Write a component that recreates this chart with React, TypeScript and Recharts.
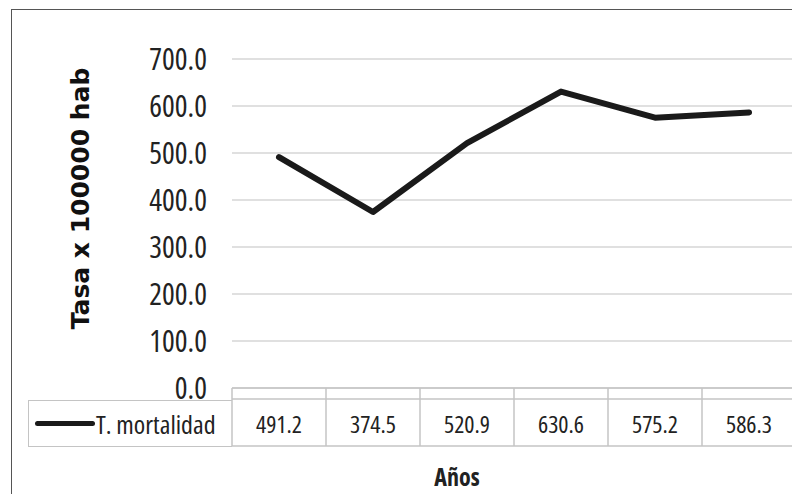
import React from 'react';
import { LineChart, Line, XAxis, YAxis, CartesianGrid, Legend } from 'recharts';

const seriesName = 'T. mortalidad';
const values = [491.2, 374.5, 520.9, 630.6, 575.2, 586.3];
const yTicks = [0, 100, 200, 300, 400, 500, 600, 700];
const yAxisTitle = 'Tasa x 100000 hab';
const xAxisTitle = 'Años';

const narrow = "'Open Sans', sans-serif";
const stretch = 'condensed';
const lineColor = '#1a1a1a';
const tableLine = '#c4c4c4';

const data = values.map((v, i) => ({ idx: i, valor: v }));

// each category tick draws its own cell of the data table
const TableTick = (props: any) => {
  const { x, y, payload } = props;
  const cellW = 94;
  const left = x - cellW / 2;
  const v = values[payload.index];
  return (
    <g>
      <line x1={left} y1={y} x2={left} y2={y + 58} stroke={tableLine} strokeWidth={1.5} />
      <line x1={left} y1={y + 11} x2={left + cellW} y2={y + 11} stroke={tableLine} strokeWidth={1.5} />
      <line x1={left} y1={y + 58} x2={left + cellW} y2={y + 58} stroke={tableLine} strokeWidth={1.5} />
      <text x={x} y={y + 35} textAnchor="middle" dominantBaseline="central" fontFamily={narrow} fontSize={24} fill="#222" style={{ fontStretch: stretch }}>
        {v.toFixed(1)}
      </text>
    </g>
  );
};

const LegendCell = () => (
  <div
    style={{
      position: 'relative',
      width: 204,
      height: 47,
      boxSizing: 'border-box',
      borderLeft: `1.5px solid ${tableLine}`,
      borderTop: `1.5px solid ${tableLine}`,
      borderBottom: `1.5px solid ${tableLine}`,
      display: 'flex',
      alignItems: 'center',
    }}
  >
    <div style={{ width: 60, height: 5, background: lineColor, borderRadius: 3, marginLeft: 6 }} />
    <span style={{ fontFamily: narrow, fontSize: 26, fontStretch: stretch, color: '#222', marginLeft: 1, whiteSpace: 'nowrap' }}>
      {seriesName}
    </span>
  </div>
);

export default function App() {
  return (
    <div style={{ position: 'absolute', left: 0, top: 0, width: 792, height: 494, overflow: 'hidden', background: '#fff' }}>
      <div
        style={{
          position: 'absolute',
          left: 11,
          top: 9,
          width: 800,
          height: 500,
          borderLeft: '1.5px solid #555',
          borderTop: '1.5px solid #555',
        }}
      />
      <div style={{ position: 'absolute', left: 0, top: 0 }}>
        <LineChart width={796} height={494} data={data} margin={{ top: 59, right: 0, bottom: 0, left: 0 }}>
          <CartesianGrid vertical={false} stroke="#d6d6d6" strokeWidth={1.5} />
          <XAxis
            dataKey="idx"
            type="category"
            scale="band"
            height={59}
            axisLine={{ stroke: tableLine, strokeWidth: 1.5 }}
            tickLine={false}
            tickSize={0}
            tickMargin={0}
            interval={0}
            tick={<TableTick />}
            label={() => (
              <text x={457} y={476} textAnchor="middle" dominantBaseline="central" fontFamily={narrow} fontWeight="bold" fontSize={24} fill="#222" style={{ fontStretch: stretch }}>
                {xAxisTitle}
              </text>
            )}
          />
          <YAxis
            domain={[0, 700]}
            ticks={yTicks}
            width={232}
            axisLine={false}
            tickLine={false}
            tickSize={0}
            tickMargin={25}
            tickFormatter={(v: number) => v.toFixed(1)}
            tick={{ fontFamily: narrow, fontSize: 30, fill: '#222', style: { fontStretch: stretch } }}
            label={{
              value: yAxisTitle,
              angle: -90,
              position: 'insideLeft',
              offset: 0,
              dx: 80,
              dy: -25,
              style: { fontFamily: "'DejaVu Sans', sans-serif", fontWeight: 'bold', fontSize: 25, fill: '#111', textAnchor: 'middle' },
            }}
          />
          <Legend
            layout="horizontal"
            verticalAlign="bottom"
            align="left"
            wrapperStyle={{ position: 'absolute', left: 28, top: 400, width: 204, height: 47, bottom: 'auto' }}
            content={<LegendCell />}
          />
          <Line
            type="linear"
            dataKey="valor"
            name={seriesName}
            stroke={lineColor}
            strokeWidth={6}
            strokeLinejoin="round"
            strokeLinecap="round"
            dot={false}
            isAnimationActive={false}
          />
        </LineChart>
      </div>
    </div>
  );
}
